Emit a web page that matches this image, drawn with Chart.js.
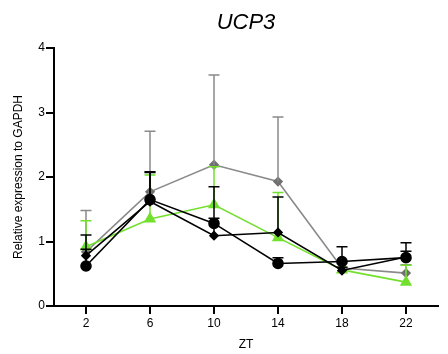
<!DOCTYPE html>
<html>
<head>
<meta charset="utf-8">
<script src="https://cdn.jsdelivr.net/npm/chart.js@4"></script>
<style>
html,body{margin:0;padding:0;background:#fff;}
#c{display:block;}
</style>
</head>
<body>
<canvas id="c" width="448" height="354"></canvas>
<script>
// ---- data ----
const zt = [2, 6, 10, 14, 18, 22];
const xTicks = [2, 6, 10, 14, 18, 22];
const yTicks = [0, 1, 2, 3, 4];

const blackCircleMean = [0.62, 1.65, 1.28, 0.66, 0.69, 0.75];
const blackCircleErr  = [0.48, 0.43, 0.08, 0.09, 0.23, 0.23];

const blackDiamondMean = [0.78, 1.62, 1.09, 1.14, 0.55, 0.76];
const blackDiamondErr  = [0.10, 0.45, 0.76, 0.55, 0.05, 0.09];

const greenMean = [0.92, 1.35, 1.57, 1.06, 0.56, 0.37];
const greenErr  = [0.40, 0.68, 0.59, 0.70, 0.04, 0.26];

const grayMean = [0.84, 1.77, 2.19, 1.93, 0.59, 0.51];
const grayErr  = [0.64, 0.94, 1.39, 1.00, 0.08, 0.13];

const FONT = "'Liberation Sans', Arial, Helvetica, sans-serif";

function pts(ys){ return zt.map((x,i)=>({x:x, y:ys[i]})); }

const errorBars = {
  id: 'errorBars',
  afterDatasetDraw(chart, args) {
    const ds = chart.data.datasets[args.index];
    if (!ds.errors) return;
    const ctx = chart.ctx;
    const yScale = chart.scales.y;
    ctx.save();
    ctx.strokeStyle = ds.errorColor || ds.borderColor;
    ctx.lineWidth = 1.5;
    args.meta.data.forEach((el, i) => {
      const v = ds.data[i].y;
      const top = yScale.getPixelForValue(v + ds.errors[i]);
      ctx.beginPath();
      ctx.moveTo(el.x, el.y);
      ctx.lineTo(el.x, top);
      ctx.moveTo(el.x - 5.5, top);
      ctx.lineTo(el.x + 5.5, top);
      ctx.stroke();
    });
    ctx.restore();
  }
};

new Chart(document.getElementById('c'), {
  type: 'line',
  data: {
    datasets: [
      { label: 'A', data: pts(blackCircleMean), errors: blackCircleErr,
        borderColor: '#000', backgroundColor: '#000', borderWidth: 1.6,
        pointStyle: 'circle', pointRadius: 5, tension: 0 },
      { label: 'B', data: pts(blackDiamondMean), errors: blackDiamondErr,
        borderColor: '#000', backgroundColor: '#000', borderWidth: 1.6,
        pointStyle: 'rectRot', pointRadius: 4, tension: 0 },
      { label: 'C', data: pts(greenMean), errors: greenErr,
        borderColor: '#72e02c', backgroundColor: '#72e02c', borderWidth: 1.6,
        pointStyle: 'triangle', pointRadius: 5.5, tension: 0 },
      { label: 'D', data: pts(grayMean), errors: grayErr,
        borderColor: '#8a8a8a', backgroundColor: '#707070', pointBorderColor: '#707070',
        borderWidth: 1.6, pointStyle: 'rectRot', pointRadius: 4, tension: 0 }
    ]
  },
  options: {
    responsive: false,
    animation: false,
    layout: { padding: { left: 0, right: 10, top: 0, bottom: 0 } },
    plugins: {
      legend: { display: false },
      tooltip: { enabled: false },
      title: {
        display: true, text: 'UCP3', fullSize: false, color: '#000',
        font: { family: FONT, size: 22, style: 'italic', weight: 'normal', lineHeight: 1.2 },
        padding: { top: 9.5, bottom: 12.1 }
      }
    },
    scales: {
      x: {
        type: 'linear', min: 0, max: 24,
        afterBuildTicks(s){ s.ticks = xTicks.map(v=>({value:v})); },
        afterFit(s){ s.height = 48; },
        grid: { display: true, drawOnChartArea: false, drawTicks: true, tickLength: 8, color: '#000', lineWidth: 2 },
        border: { display: true, color: '#000', width: 2 },
        ticks: { color: '#000', padding: 2, maxRotation: 0, font: { family: FONT, size: 12 } },
        title: { display: true, text: 'ZT', color: '#000', padding: { top: 0, bottom: 2 },
                 font: { family: FONT, size: 12 } }
      },
      y: {
        min: 0, max: 4,
        afterBuildTicks(s){ s.ticks = yTicks.map(v=>({value:v})); },
        afterFit(s){ s.width = 54; },
        grid: { display: true, drawOnChartArea: false, drawTicks: true, tickLength: 8, color: '#000', lineWidth: 2 },
        border: { display: true, color: '#000', width: 2 },
        ticks: { color: '#000', padding: 1, font: { family: FONT, size: 12 } },
        title: { display: true, text: 'Relative expression to GAPDH', color: '#000',
                 padding: { top: 11, bottom: 0 }, font: { family: FONT, size: 12 } }
      }
    }
  },
  plugins: [errorBars]
});
</script>
</body>
</html>
